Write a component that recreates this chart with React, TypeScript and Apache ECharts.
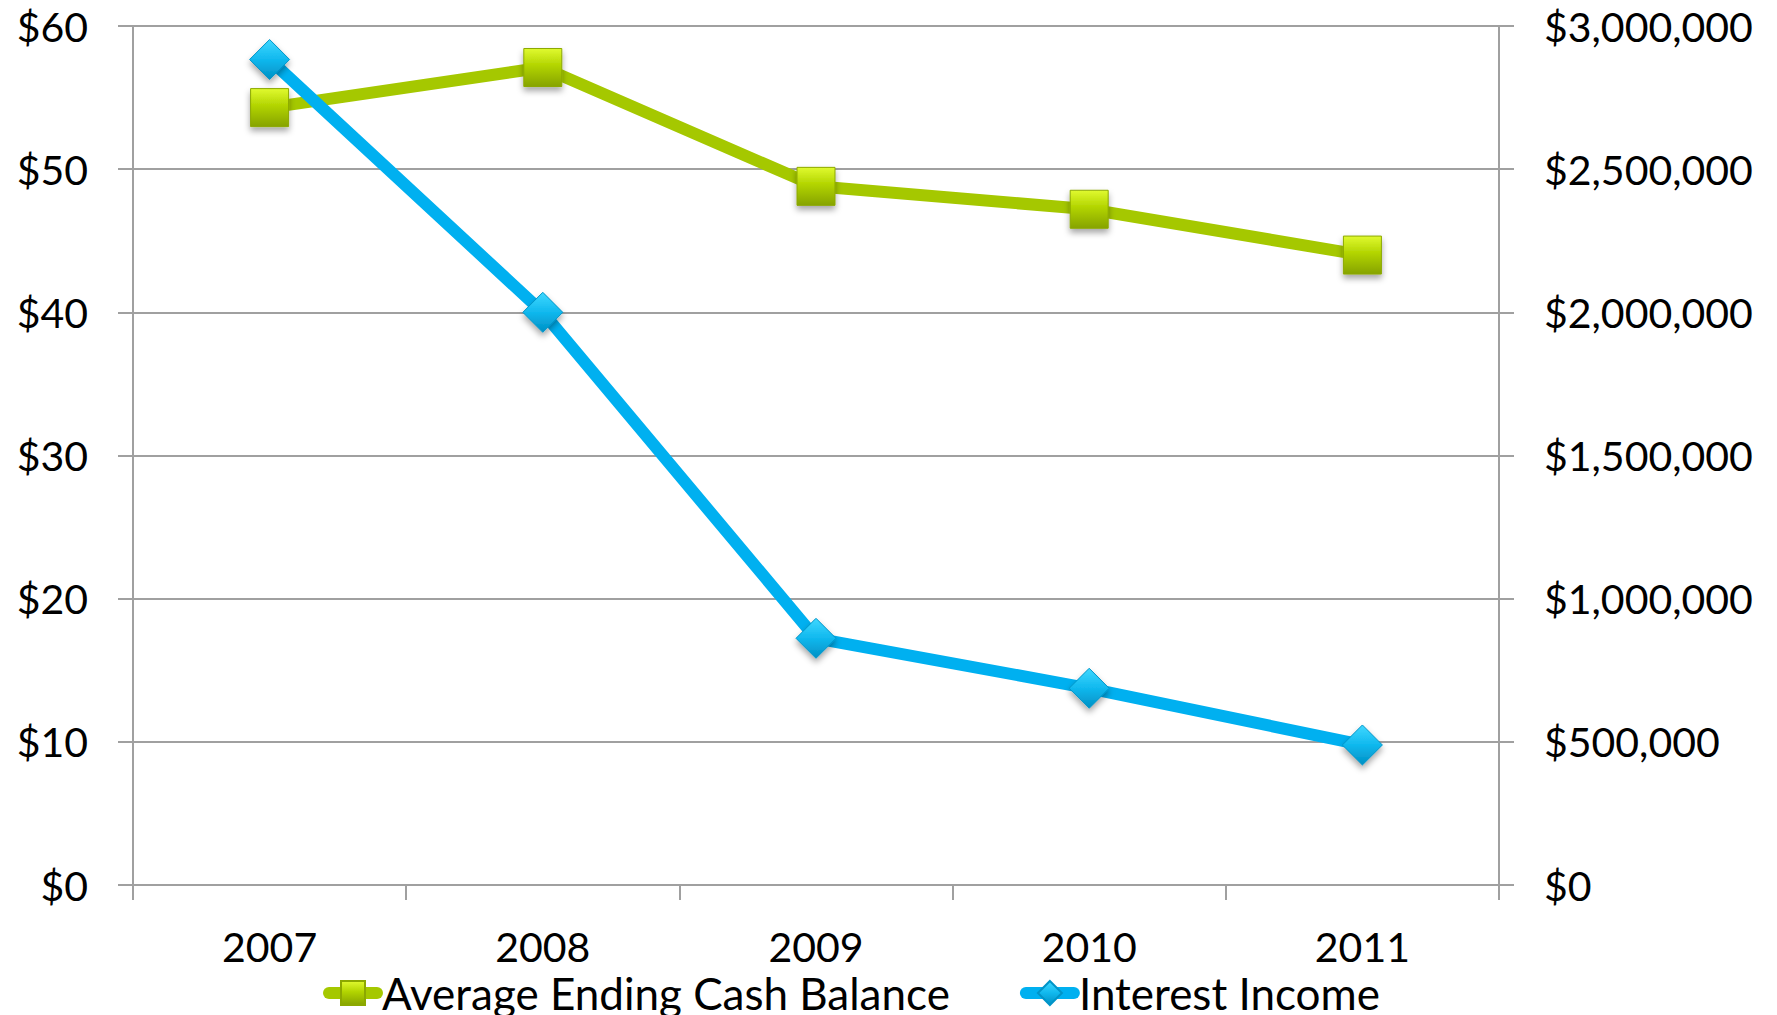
import React, { useEffect, useRef } from "react";
import * as echarts from "echarts";

const years = ["2007", "2008", "2009", "2010", "2011"];
const cashBalance = [54.3, 57.1, 48.8, 47.2, 44.0];
const interestIncome = [2883000, 2000000, 861500, 687000, 489000];
const leftTicks = { min: 0, max: 60, interval: 10 };
const rightTicks = { min: 0, max: 3000000, interval: 500000 };
const seriesNames = ["Average Ending Cash Balance", "Interest Income"];

const GRAY = "#A0A0A0";
const FONT = "Lato";

export default function App() {
  const ref = useRef<HTMLDivElement>(null);
  useEffect(() => {
    if (!ref.current) return;
    const chart = echarts.init(ref.current, null, { renderer: "svg" });
    const greenGrad = new echarts.graphic.LinearGradient(0, 0, 0, 1, [
      { offset: 0, color: "#E0FA30" },
      { offset: 0.45, color: "#B2D400" },
      { offset: 1, color: "#86A300" },
    ]);
    const blueGrad = new echarts.graphic.LinearGradient(0, 0, 0, 1, [
      { offset: 0, color: "#40D8FF" },
      { offset: 0.5, color: "#10B8EE" },
      { offset: 1, color: "#0090C4" },
    ]);
    chart.setOption({
      animation: false,
      backgroundColor: "#ffffff",
      textStyle: { fontFamily: FONT },
      grid: { left: 133, right: 278, top: 26, bottom: 130, containLabel: false },
      legend: {
        left: 318,
        top: 966,
        itemGap: 70,
        itemWidth: 48,
        itemHeight: 30,
        itemTextGap: 6,
        lineStyle: { width: 12, cap: "round" },
        textStyle: { fontFamily: FONT, fontSize: 44, lineHeight: 40, color: "#000" },
        data: seriesNames,
      },
      xAxis: {
        type: "category",
        data: years,
        boundaryGap: true,
        axisLine: { lineStyle: { color: GRAY, width: 2 } },
        axisTick: { show: true, length: 15, lineStyle: { color: GRAY, width: 2 } },
        axisLabel: { margin: 43, fontSize: 41, lineHeight: 36, color: "#000", fontFamily: FONT },
      },
      yAxis: [
        {
          type: "value",
          position: "left",
          min: leftTicks.min,
          max: leftTicks.max,
          interval: leftTicks.interval,
          axisLine: { show: true, lineStyle: { color: GRAY, width: 2 } },
          axisTick: { show: true, length: 15, lineStyle: { color: GRAY, width: 2 } },
          splitLine: { show: true, lineStyle: { color: GRAY, width: 2 } },
          axisLabel: {
            margin: 45,
            fontSize: 41,
            color: "#000",
            fontFamily: FONT,
            formatter: (v: number) => "$" + v,
          },
        },
        {
          type: "value",
          position: "right",
          min: rightTicks.min,
          max: rightTicks.max,
          interval: rightTicks.interval,
          axisLine: { show: true, lineStyle: { color: GRAY, width: 2 } },
          axisTick: { show: true, length: 15, lineStyle: { color: GRAY, width: 2 } },
          splitLine: { show: false },
          axisLabel: {
            margin: 45,
            fontSize: 41,
            color: "#000",
            fontFamily: FONT,
            formatter: (v: number) => "$" + v.toLocaleString("en-US"),
          },
        },
      ],
      series: [
        {
          name: seriesNames[0],
          type: "line",
          yAxisIndex: 0,
          data: cashBalance,
          symbol: "rect",
          symbolSize: 38,
          lineStyle: { color: "#A5C800", width: 12, join: "round", cap: "round" },
          itemStyle: {
            color: greenGrad,
            borderColor: "#8CA800",
            borderWidth: 1,
            shadowColor: "rgba(0,0,0,0.35)",
            shadowBlur: 6,
            shadowOffsetY: 4,
          },
          z: 2,
        },
        {
          name: seriesNames[1],
          type: "line",
          yAxisIndex: 1,
          data: interestIncome,
          symbol: "diamond",
          symbolSize: 40,
          lineStyle: { color: "#00B0F0", width: 12, join: "round", cap: "round" },
          itemStyle: {
            color: blueGrad,
            borderColor: "#0094C8",
            borderWidth: 1,
            shadowColor: "rgba(0,0,0,0.35)",
            shadowBlur: 6,
            shadowOffsetY: 4,
          },
          z: 3,
        },
      ],
    });
    return () => chart.dispose();
  }, []);
  return (
    <div
      ref={ref}
      style={{ position: "fixed", left: 0, top: 0, width: 1777, height: 1015 }}
    />
  );
}
